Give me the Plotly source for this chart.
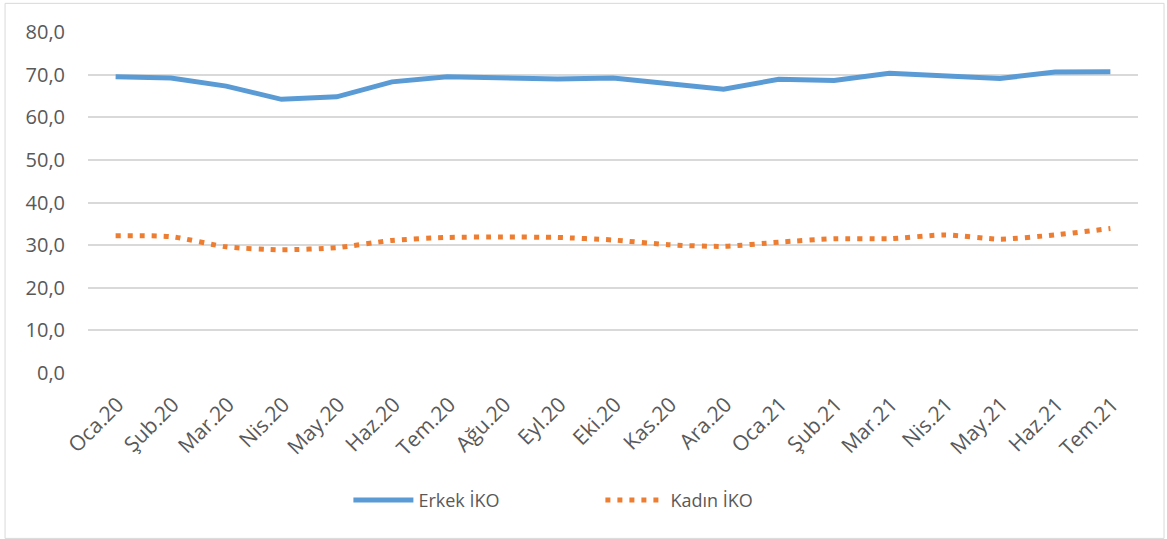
import plotly.graph_objects as go

categories = ["Oca.20", "Şub.20", "Mar.20", "Nis.20", "May.20", "Haz.20", "Tem.20",
              "Ağu.20", "Eyl.20", "Eki.20", "Kas.20", "Ara.20", "Oca.21", "Şub.21",
              "Mar.21", "Nis.21", "May.21", "Haz.21", "Tem.21"]
erkek = [69.5, 69.2, 67.3, 64.2, 64.8, 68.3, 69.5, 69.2, 69.0, 69.2, 67.8, 66.6,
         68.9, 68.6, 70.3, 69.6, 69.1, 70.6, 70.7]
kadin = [32.2, 32.0, 29.6, 28.9, 29.4, 31.1, 31.8, 31.9, 31.8, 31.2, 30.1, 29.7,
         30.7, 31.5, 31.5, 32.4, 31.4, 32.4, 33.9]
y_ticks = [0, 10, 20, 30, 40, 50, 60, 70, 80]

TEXT = "#595959"
FONT = "Open Sans"

fig = go.Figure()
fig.add_trace(go.Scatter(x=categories, y=erkek, mode="lines", name="Erkek İKO",
                         line=dict(color="#5b9bd5", width=5)))
fig.add_trace(go.Scatter(x=categories, y=kadin, mode="lines", name="Kadın İKO",
                         line=dict(color="#ed7d31", width=5, dash="5px,7px",
                                   shape="spline", smoothing=0.6)))

fig.update_layout(
    width=1167, height=539,
    margin=dict(l=88, r=29, t=32, b=166),
    paper_bgcolor="white", plot_bgcolor="white",
    separators=", ",
    font=dict(family=FONT, color=TEXT, size=18),
    showlegend=True,
    legend=dict(orientation="h", x=0.488, xanchor="center", y=-0.373, yanchor="middle",
                font=dict(size=18, color=TEXT), itemwidth=60, entrywidth=177,
                bgcolor="rgba(0,0,0,0)"),
    xaxis=dict(type="category", range=[-0.5, len(categories) - 0.5],
               showgrid=False, zeroline=False, showline=False,
               tickangle=-45, ticks="", ticklabelstandoff=14, ticklabelshift=2,
               tickfont=dict(size=21, color=TEXT)),
    yaxis=dict(range=[0, 80], tickvals=y_ticks, tickformat=".1f", showgrid=True,
               gridcolor="#d9d9d9", gridwidth=1.5, zeroline=False, showline=False,
               ticks="", ticklabelstandoff=22, tickfont=dict(size=20, color=TEXT)),
    shapes=[dict(type="rect", xref="paper", yref="paper",
                 x0=-0.079, x1=1.0248, y0=-0.485, y1=1.084,
                 line=dict(color="#d9d9d9", width=1), fillcolor="rgba(0,0,0,0)",
                 layer="below")],
)

fig.write_html("out.html", config={"displayModeBar": False},
               post_script="document.body.style.margin='0';document.body.style.overflow='hidden';")
